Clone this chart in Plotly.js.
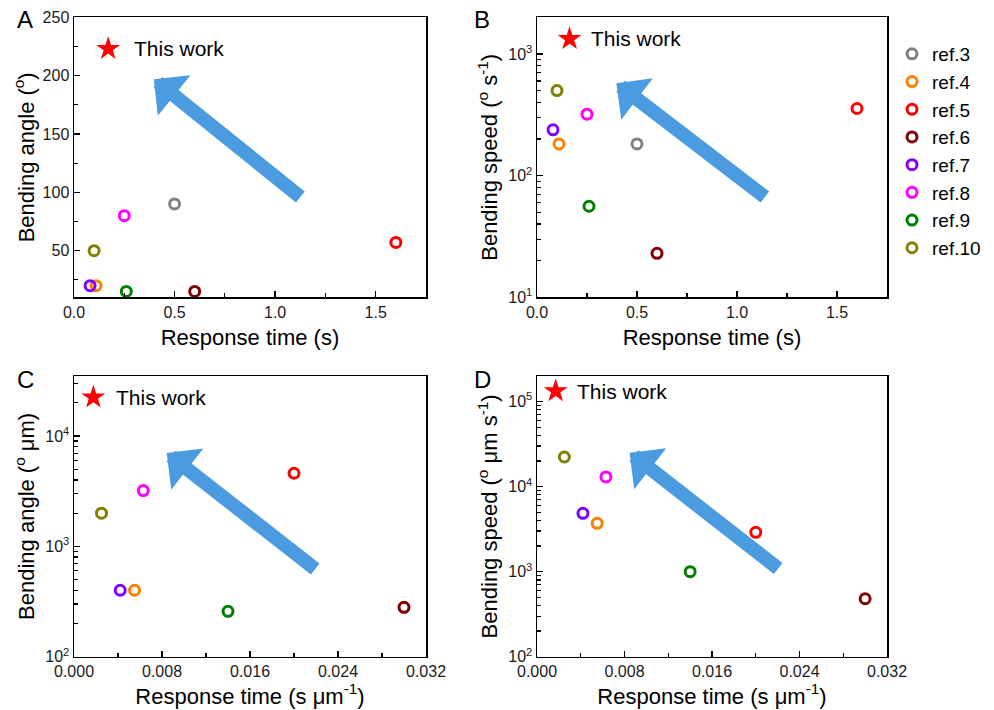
<!DOCTYPE html>
<html><head><meta charset="utf-8">
<script src="https://cdn.plot.ly/plotly-3.0.1.min.js"></script>
<style>html,body{margin:0;padding:0;background:#fff}#chart{width:994px;height:710px}</style>
</head><body><div id="chart"></div>
<script>
// ---- data ----
const refs = ['ref.3', 'ref.4', 'ref.5', 'ref.6', 'ref.7', 'ref.8', 'ref.9', 'ref.10'];
const colors = ['#808080', '#ff8000', '#ff0000', '#800000', '#8000ff', '#ff00ff', '#008000', '#808000'];
// panels A & B: response time (s)
const timeS = [0.5, 0.11, 1.6, 0.6, 0.08, 0.25, 0.26, 0.1];
const angleDeg = [90, 20, 57, 15, 20, 80, 15, 50];              // A: bending angle (°)
const speedDegS = [182, 182, 356, 23, 238, 320, 56, 500];       // B: bending speed (° s-1)
// panels C & D: response time per thickness (s µm-1)
const timeSPerUm = [null, 0.0055, 0.02, 0.03, 0.0042, 0.0063, 0.014, 0.0025];
const angleDegUm = [null, 400, 4600, 280, 400, 3200, 258, 2000];        // C
const speedDegUmS = [null, 3700, 2900, 480, 4850, 13000, 1000, 22300];  // D
// "This work" star markers (A, B, C, D)
const thisWorkX = [0.17, 0.163, 0.00176, 0.00171];
const thisWorkY = [223, 1330, 22400, 133000];
const thisWorkLabel = 'This work';
const panelLetters = ['A', 'B', 'C', 'D'];
const xTitles = ['Response time (s)', 'Response time (s)', 'Response time (s μm<sup>-1</sup>)', 'Response time (s μm<sup>-1</sup>)'];
const yTitles = ['Bending angle (<sup>o</sup>)', 'Bending speed (<sup>o</sup> s<sup>-1</sup>)', 'Bending angle (<sup>o</sup> μm)', 'Bending speed (<sup>o</sup> μm s<sup>-1</sup>)'];

const FONT = 'Arial, "Liberation Sans", Helvetica, sans-serif';
const panels = [
  {xa: 'x',  ya: 'y',  x: timeS,      y: angleDeg,    logY: false},
  {xa: 'x2', ya: 'y2', x: timeS,      y: speedDegS,   logY: true},
  {xa: 'x3', ya: 'y3', x: timeSPerUm, y: angleDegUm,  logY: true},
  {xa: 'x4', ya: 'y4', x: timeSPerUm, y: speedDegUmS, logY: true}
];

const traces = [];
panels.forEach((p, pi) => {
  refs.forEach((r, i) => {
    if (p.y[i] == null) return;
    traces.push({
      type: 'scatter', mode: 'markers', x: [p.x[i]], y: [p.y[i]],
      xaxis: p.xa, yaxis: p.ya, name: r, legendgroup: r, showlegend: pi === 0,
      cliponaxis: false,
      marker: {symbol: 'circle-open', size: 10, color: colors[i], line: {width: 3, color: colors[i]}}
    });
  });
});
panels.forEach((p, pi) => {
  traces.push({
    type: 'scatter', mode: 'markers', x: [thisWorkX[pi]], y: [thisWorkY[pi]],
    xaxis: p.xa, yaxis: p.ya, showlegend: false, cliponaxis: false,
    marker: {symbol: 'star', size: 18, color: '#ff0000', line: {width: 0}}
  });
});

// ---- layout ----
const colX = [[74 / 994, 426 / 994], [537 / 994, 887 / 994]];
const rowY = [[1 - 297.3 / 710, 1 - 17.3 / 710], [1 - 656.7 / 710, 1 - 376 / 710]];

function minorLog(lo, hi) {
  const v = [];
  for (let d = lo; d < hi; d++) for (let k = 2; k <= 9; k++) v.push(k * Math.pow(10, d));
  return v;
}
function baseAxis() {
  return {
    showline: true, linecolor: '#000', linewidth: 1.5, mirror: true,
    ticks: 'inside', ticklen: 6, tickwidth: 1.3, tickcolor: '#000',
    showgrid: false, zeroline: false, automargin: false,
    tickfont: {family: FONT, size: 16, color: '#1a1a1a'}
  };
}
const yStandoff = [2, 4, 4, 4];
function xAxis(pi, range, dtick, minor, fmt, standoff) {
  return Object.assign(baseAxis(), {
    domain: colX[pi % 2], anchor: panels[pi].ya, range: range,
    tick0: 0, dtick: dtick, tickformat: fmt,
    minor: {ticks: 'inside', ticklen: 4, tickwidth: 1.2, tickcolor: '#000', dtick: minor, tick0: 0},
    title: {text: xTitles[pi], font: {family: FONT, size: 22, color: '#000'}, standoff: standoff}
  });
}
function yAxisLin(pi) {
  return Object.assign(baseAxis(), {
    domain: rowY[Math.floor(pi / 2)], anchor: panels[pi].xa, range: [10, 250],
    tick0: 0, dtick: 50,
    minor: {ticks: 'inside', ticklen: 4, tickwidth: 1.2, tickcolor: '#000', dtick: 25, tick0: 0},
    title: {text: yTitles[pi], font: {family: FONT, size: 22, color: '#000'}, standoff: yStandoff[pi]}
  });
}
function yAxisLog(pi, lo, hiLog, decades) {
  return Object.assign(baseAxis(), {
    type: 'log', domain: rowY[Math.floor(pi / 2)], anchor: panels[pi].xa, range: [lo, hiLog],
    tickmode: 'array', tickvals: decades.map(d => Math.pow(10, d)),
    ticktext: decades.map(d => '10<sup>' + d + '</sup>'),
    minor: {ticks: 'inside', ticklen: 4, tickwidth: 1.2, tickcolor: '#000', tickmode: 'array', tickvals: minorLog(decades[0], Math.ceil(hiLog))},
    title: {text: yTitles[pi], font: {family: FONT, size: 22, color: '#000'}, standoff: yStandoff[pi]}
  });
}

// trend arrows: tip in data units (log10 for log axes), tail offset in px
const arrowTips = [[0.397, 197], [0.397, Math.log10(575)], [0.00843, Math.log10(7000)], [0.00847, Math.log10(25100)]];
const arrowTails = [[148, 119], [150, 115], [150, 117], [150, 117]];
const annotations = [];
panels.forEach((p, pi) => {
  annotations.push({
    xref: p.xa, yref: p.ya, x: arrowTips[pi][0], y: arrowTips[pi][1],
    ax: arrowTails[pi][0], ay: arrowTails[pi][1], axref: 'pixel', ayref: 'pixel',
    text: '', showarrow: true, arrowhead: 1, arrowsize: 0.62, arrowwidth: 14, arrowcolor: '#4a9be0'
  });
});
// "This work" labels next to the stars
const labelShift = [24, 19, 21, 19];
panels.forEach((p, pi) => {
  annotations.push({
    xref: p.xa, yref: p.ya, x: thisWorkX[pi], y: p.logY ? Math.log10(thisWorkY[pi]) : thisWorkY[pi],
    xanchor: 'left', yanchor: 'middle', xshift: labelShift[pi], showarrow: false,
    text: thisWorkLabel, font: {family: FONT, size: 21, color: '#000'}
  });
});
const letterPos = [[25, 20], [482, 20], [25, 380], [482, 380]];
panelLetters.forEach((L, i) => {
  annotations.push({
    xref: 'paper', yref: 'paper', x: letterPos[i][0] / 994, y: 1 - letterPos[i][1] / 710,
    xanchor: 'center', yanchor: 'middle', showarrow: false, text: L,
    font: {family: FONT, size: 24, color: '#000'}
  });
});

const layout = {
  width: 994, height: 710, margin: {l: 0, r: 0, t: 0, b: 0},
  paper_bgcolor: '#fff', plot_bgcolor: '#fff',
  font: {family: FONT, color: '#000'},
  showlegend: true,
  legend: {x: 892 / 994, y: 1 - 35 / 710, xanchor: 'left', yanchor: 'top', tracegroupgap: 0,
           font: {family: FONT, size: 19, color: '#000'}, bgcolor: 'rgba(0,0,0,0)', borderwidth: 0},
  xaxis: xAxis(0, [0, 1.75], 0.5, 0.25, '.1f', 9),
  xaxis2: xAxis(1, [0, 1.75], 0.5, 0.25, '.1f', 9),
  xaxis3: xAxis(2, [0, 0.032], 0.008, 0.004, '.3f', 6),
  xaxis4: xAxis(3, [0, 0.032], 0.008, 0.004, '.3f', 6),
  yaxis: yAxisLin(0),
  yaxis2: yAxisLog(1, 1, Math.log10(2000), [1, 2, 3]),
  yaxis3: yAxisLog(2, 2, 4.544, [2, 3, 4]),
  yaxis4: yAxisLog(3, 2, Math.log10(2e5), [2, 3, 4, 5]),
  annotations: annotations
};

Plotly.newPlot('chart', traces, layout, {displayModeBar: false, staticPlot: true});
</script>
</body></html>
